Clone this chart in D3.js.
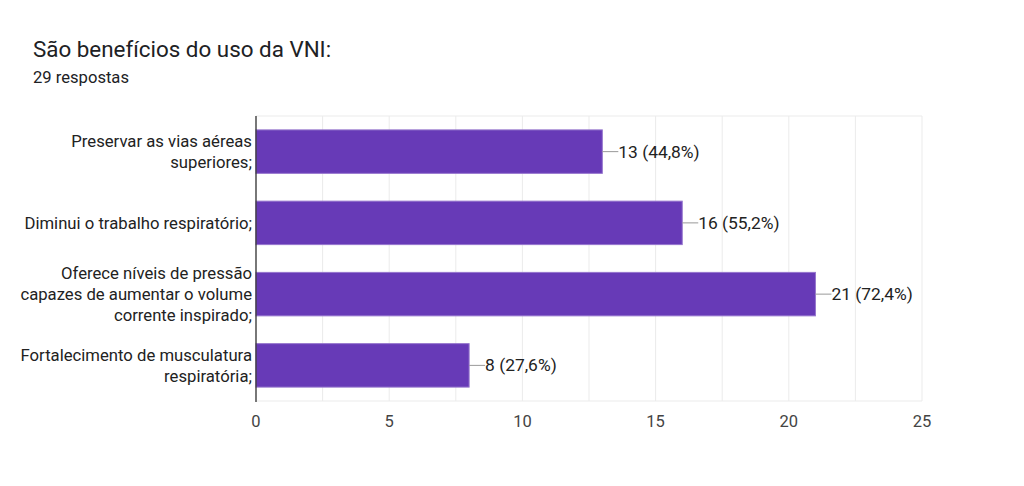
<!DOCTYPE html>
<html>
<head>
<meta charset="utf-8">
<script src="https://cdn.jsdelivr.net/npm/d3@7"></script>
<style>
  body { margin: 0; background: #fff; }
  text { font-family: Roboto, Arial, sans-serif; }
</style>
</head>
<body>
<div id="chart"></div>
<script>
// answers (label lines) and counts
var categories = [
  ["Preservar as vias aéreas", "superiores;"],
  ["Diminui o trabalho respiratório;"],
  ["Oferece níveis de pressão", "capazes de aumentar o volume", "corrente inspirado;"],
  ["Fortalecimento de musculatura", "respiratória;"]
];
var counts = [13, 16, 21, 8];
var percents = ["44,8%", "55,2%", "72,4%", "27,6%"];
var tickValues = [0, 5, 10, 15, 20, 25];
var totalAnswers = 29;

var width = 1024, height = 486;
var svg = d3.select("#chart").append("svg")
  .attr("width", width).attr("height", height);

svg.append("text").attr("x", 33).attr("y", 57)
  .style("font-size", "22.4px").style("fill", "#202124")
  .text("São benefícios do uso da VNI:");
svg.append("text").attr("x", 33).attr("y", 83)
  .style("font-size", "16.6px").style("fill", "#202124")
  .text(totalAnswers + " respostas");

var plotLeft = 256, plotRight = 922, plotTop = 116, plotBottom = 401;

var x = d3.scaleLinear().domain([0, 25]).range([plotLeft, plotRight]);
var y = d3.scaleBand().domain(d3.range(categories.length))
  .range([plotTop, plotBottom]).paddingInner(0.39).paddingOuter(0.195);

// grid, every 2.5
var grid = d3.range(0, 25.01, 2.5);
svg.selectAll("line.grid").data(grid).enter().append("line")
  .attr("x1", function (d) { return x(d); }).attr("x2", function (d) { return x(d); })
  .attr("y1", plotTop).attr("y2", plotBottom)
  .style("stroke", "#ebebeb").style("stroke-width", 1);
svg.append("line").attr("x1", plotLeft).attr("x2", plotRight).attr("y1", plotTop).attr("y2", plotTop)
  .style("stroke", "#ebebeb");
svg.append("line").attr("x1", plotLeft).attr("x2", plotRight).attr("y1", plotBottom).attr("y2", plotBottom)
  .style("stroke", "#ebebeb");

// bars
svg.selectAll("rect.bar").data(counts).enter().append("rect")
  .attr("x", x(0))
  .attr("y", function (d, i) { return y(i); })
  .attr("width", function (d) { return x(d) - x(0); })
  .attr("height", y.bandwidth())
  .style("fill", "#673ab7").style("stroke", "#9575cd").style("stroke-width", 1);

// baseline
svg.append("line").attr("x1", plotLeft).attr("x2", plotLeft).attr("y1", plotTop).attr("y2", plotBottom + 1)
  .style("stroke", "#333").style("stroke-width", 1.3);

// value labels with leader
counts.forEach(function (d, i) {
  var cy = y(i) + y.bandwidth() / 2;
  svg.append("line").attr("x1", x(d)).attr("x2", x(d) + 16)
    .attr("y1", cy).attr("y2", cy).style("stroke", "#999").style("stroke-width", 1);
  svg.append("text").attr("x", x(d) + 16).attr("y", cy + 6)
    .style("font-size", "17.4px").style("fill", "#222")
    .text(d + " (" + percents[i] + ")");
});

// category labels
categories.forEach(function (lines, i) {
  var cy = y(i) + y.bandwidth() / 2;
  var lh = 21;
  var start = cy - (lines.length - 1) * lh / 2;
  lines.forEach(function (t, j) {
    svg.append("text").attr("x", plotLeft - 4).attr("y", start + j * lh + 6)
      .attr("text-anchor", "end")
      .style("font-size", "16.7px").style("fill", "#222")
      .text(t);
  });
});

// x tick labels
svg.selectAll("text.tick").data(tickValues).enter().append("text")
  .attr("x", function (d) { return x(d); }).attr("y", 427)
  .attr("text-anchor", "middle")
  .style("font-size", "16.5px").style("fill", "#444")
  .text(function (d) { return d; });
</script>
</body>
</html>
